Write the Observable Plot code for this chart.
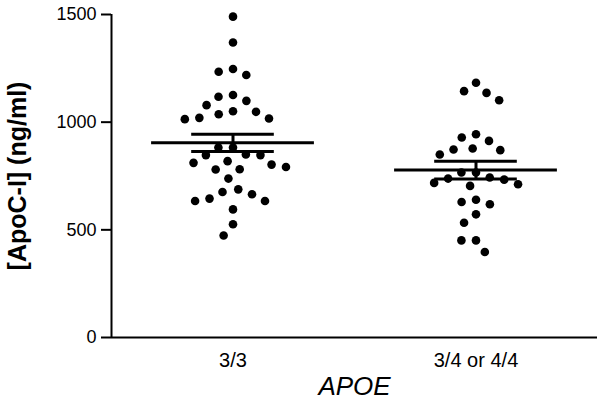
<!DOCTYPE html>
<html><head><meta charset="utf-8">
<script src="https://cdn.jsdelivr.net/npm/d3@7"></script>
<script src="https://cdn.jsdelivr.net/npm/@observablehq/plot@0.6"></script>
<style>
body{margin:0;background:#fff;}
#chart svg{font-family:"Liberation Sans",Arial,Helvetica,sans-serif;}
#chart g[aria-label="y-axis tick label"] text{font-size:18px !important;}
#chart g[aria-label="fx-axis tick label"] text{font-size:20px !important;}
#chart g[aria-label="y-axis label"] text{font-weight:bold;font-size:25px !important;}
#chart g[aria-label="fx-axis label"] text{font-style:italic;font-size:26px !important;}
</style></head><body><div id="chart"></div><script>
const groups = ["3/3", "3/4 or 4/4"];
const apoe33 = [1490, 1370, 1247, 1234, 1219, 1126, 1118, 1099, 1079, 1051, 1048, 1037, 1020, 1017, 1014,
  882, 882, 850, 847, 847, 819, 811, 803, 792, 781, 780, 738, 688, 676, 665, 645, 634, 634, 595, 526, 474];
const apoe34 = [1183, 1144, 1136, 1102, 944, 929, 913, 878, 873, 870, 850, 766, 766, 743, 738, 733, 718, 712, 704,
  640, 629, 619, 572, 533, 451, 451, 397];
const yTicks = [0, 500, 1000, 1500];
const xLabel = "APOE";
const yLabel = "[ApoC-I] (ng/ml)";

const series = [apoe33, apoe34];
const points = groups.flatMap((g, i) => series[i].map(v => ({group: g, value: v})));
const stats = groups.map((g, i) => {
  const vals = series[i];
  const m = d3.mean(vals);
  const sem = d3.deviation(vals) / Math.sqrt(vals.length);
  return {group: g, mean: m, lo: m - sem, hi: m + sem};
});

const plot = Plot.plot({
  width: 600, height: 400,
  marginLeft: 110, marginRight: 3, marginTop: 14, marginBottom: 63,
  style: {fontFamily: '"Liberation Sans",Arial,Helvetica,sans-serif', fontSize: "16px", color: "black", background: "white"},
  fx: {domain: groups, padding: 0},
  x: {domain: [-1, 1], axis: null},
  y: {domain: [0, 1500], axis: null},
  marks: [
    Plot.axisY({ticks: yTicks, tickSize: 10, tickPadding: 5, tickFormat: d => String(d), strokeWidth: 2, fontSize: 18,
      label: yLabel, labelAnchor: "center", labelArrow: "none", labelOffset: 103}),
    Plot.axisFx({anchor: "bottom", tickSize: 0, tickPadding: 15, fontSize: 20, label: xLabel, labelAnchor: "center", labelOffset: 57}),
    Plot.ruleY([0], {strokeWidth: 2}),
    Plot.ruleX([-1], {facetAnchor: "left", strokeWidth: 2}),
    Plot.dot(points, Plot.dodgeX({anchor: "middle", padding: 6, fx: "group", y: "value", r: 4.3, fill: "black"})),
    Plot.ruleY(stats, {fx: "group", y: "mean", x1: () => -0.67, x2: () => 0.67, strokeWidth: 3}),
    Plot.ruleY(stats, {fx: "group", y: "hi", x1: () => -0.34, x2: () => 0.34, strokeWidth: 3}),
    Plot.ruleY(stats, {fx: "group", y: "lo", x1: () => -0.34, x2: () => 0.34, strokeWidth: 3}),
    Plot.ruleX(stats, {fx: "group", x: () => 0, y1: "lo", y2: "hi", strokeWidth: 3})
  ]
});
document.getElementById("chart").appendChild(plot);
</script></body></html>
